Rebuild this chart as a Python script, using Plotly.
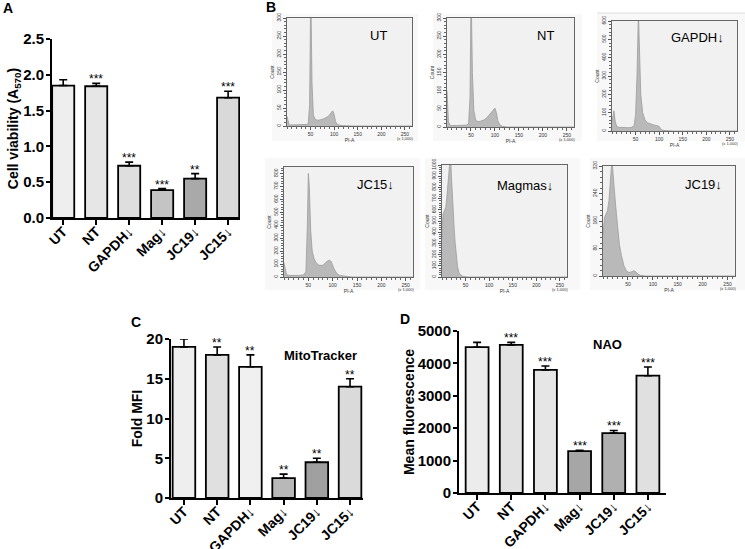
import plotly.graph_objects as go

# ---------------- data ----------------
categories = ["UT", "NT", "GAPDH↓", "Mag↓", "JC19↓", "JC15↓"]

a_values = [1.85, 1.84, 0.73, 0.39, 0.55, 1.68]
a_errors = [0.08, 0.04, 0.05, 0.02, 0.07, 0.09]
a_stars = ["", "***", "***", "***", "**", "***"]
a_ticks = [0.0, 0.5, 1.0, 1.5, 2.0, 2.5]

c_values = [19.0, 18.0, 16.5, 2.5, 4.5, 14.0]
c_errors = [1.0, 1.0, 1.5, 0.5, 0.5, 1.0]
c_stars = ["", "**", "**", "**", "**", "**"]
c_ticks = [0, 5, 10, 15, 20]

d_values = [4500, 4570, 3800, 1290, 1850, 3620]
d_errors = [150, 80, 120, 30, 80, 270]
d_stars = ["", "***", "***", "***", "***", "***"]
d_ticks = [0, 1000, 2000, 3000, 4000, 5000]

hist_labels = ["UT", "NT", "GAPDH↓", "JC15↓", "Magmas↓", "JC19↓"]
hist_ticks_x = [50, 100, 150, 200, 250]

ut_x = [0, 2, 4, 7, 12, 20, 30, 40, 45, 48, 50, 51, 53, 56, 60, 65, 70, 78, 85, 90, 94, 97, 100, 103, 107, 112, 120, 140, 265]
ut_y = [27, 15, 6, 3, 3, 3, 3, 4, 6, 60, 340, 320, 120, 30, 18, 16, 17, 20, 25, 30, 38, 42, 32, 12, 4, 2, 1, 0, 0]

nt_x = [0, 1, 3, 6, 10, 20, 30, 40, 45, 48, 50, 51, 53, 56, 60, 65, 70, 78, 85, 90, 95, 100, 103, 106, 110, 115, 125, 265]
nt_y = [100, 60, 15, 5, 4, 4, 4, 5, 8, 80, 340, 320, 150, 45, 18, 15, 16, 20, 28, 35, 45, 52, 40, 18, 6, 2, 0, 0]

gapdh_x = [0, 2, 4, 7, 10, 15, 25, 35, 42, 47, 50, 53, 56, 58, 61, 65, 70, 75, 80, 85, 90, 95, 100, 104, 110, 130, 265]
gapdh_y = [50, 90, 110, 50, 25, 20, 18, 18, 20, 30, 90, 300, 650, 500, 200, 100, 60, 45, 40, 35, 32, 30, 25, 8, 3, 0, 0]

jc15_x = [0, 2, 5, 10, 20, 30, 40, 45, 48, 50, 52, 55, 58, 62, 66, 72, 80, 88, 93, 97, 102, 108, 114, 125, 140, 265]
jc15_y = [110, 60, 20, 12, 10, 12, 15, 40, 400, 800, 700, 350, 200, 140, 110, 90, 90, 120, 130, 120, 70, 30, 12, 5, 0, 0]

mag_x = [0, 2, 4, 6, 8, 10, 12, 14, 16, 18, 20, 22, 24, 26, 28, 30, 33, 36, 40, 45, 55, 265]
mag_y = [350, 560, 580, 600, 620, 700, 850, 1000, 1100, 1100, 900, 700, 550, 420, 300, 180, 90, 40, 15, 5, 0, 0]

jc19_x = [0, 3, 6, 9, 12, 15, 17, 19, 21, 24, 27, 30, 33, 37, 42, 47, 52, 57, 62, 66, 70, 75, 85, 265]
jc19_y = [120, 170, 180, 190, 220, 280, 320, 320, 270, 230, 180, 130, 90, 60, 30, 15, 10, 12, 15, 12, 6, 2, 0, 0]

hist_x = [ut_x, nt_x, gapdh_x, jc15_x, mag_x, jc19_x]
hist_y = [ut_y, nt_y, gapdh_y, jc15_y, mag_y, jc19_y]
hist_ymax = [300, 300, 600, 850, 1000, 320]
hist_dtick = [50, 50, 100, 100, 100, 80]

# ---------------- layout helpers ----------------
W, H = 745, 549


def xd(a, b):
    return [a / W, b / W]


def yd(top, bottom):
    return [1 - bottom / H, 1 - top / H]


FONT = "Arial, Liberation Sans, sans-serif"
fig = go.Figure()
layout = dict(
    width=W, height=H, margin=dict(l=0, r=0, t=0, b=0, autoexpand=False),
    paper_bgcolor="white", plot_bgcolor="white", showlegend=False,
    font=dict(family=FONT, color="black"),
)
annotations = []
shapes = []

bar_panels = [
    # values, errors, stars, ticks, ymax, ytitle, xdom, ydom, xrange, colors, width
    (a_values, a_errors, a_stars, a_ticks, 2.5, "Cell viability (A<sub>570</sub>)",
     xd(52, 240), yd(39, 218), [-0.34, 5.36],
     ["#eeeeee", "#e6e6e6", "#dedede", "#c4c4c4", "#a9a9a9", "#d9d9d9"], 0.67),
    (c_values, c_errors, c_stars, c_ticks, 20, "Fold MFI",
     xd(171, 363), yd(339, 498), [-0.39, 5.39],
     ["#eeeeee", "#e0e0e0", "#f0f0f0", "#b8b8b8", "#a0a0a0", "#dadada"], 0.68),
    (d_values, d_errors, d_stars, d_ticks, 5000, "Mean fluorescence",
     xd(459, 666), yd(331, 493), [-0.53, 5.53],
     ["#ececec", "#e2e2e2", "#e6e6e6", "#a6a6a6", "#b0b0b0", "#e0e0e0"], 0.67),
]

for i, (vals, errs, stars, ticks, ymax, ytitle, xdom, ydom, xr, cols, bw) in enumerate(bar_panels):
    n = i + 1
    xa = "x" if n == 1 else f"x{n}"
    ya = "y" if n == 1 else f"y{n}"
    fig.add_trace(go.Bar(
        x=categories, y=vals, xaxis=xa, yaxis=ya, width=bw,
        marker=dict(color=cols, line=dict(color="black", width=1.8)),
        error_y=dict(type="data", array=errs, arrayminus=[0] * len(errs), symmetric=False,
                     color="black", thickness=1.6, width=4),
    ))
    for cat, v, e, s in zip(categories, vals, errs, stars):
        if s:
            annotations.append(dict(x=cat, y=v + e, xref=xa, yref=ya, text=s, showarrow=False,
                                    xanchor="center", yanchor="bottom", yshift=-5,
                                    font=dict(size=12, family=FONT, color="black")))
    key = "" if n == 1 else str(n)
    layout["xaxis" + key] = dict(
        domain=xdom, anchor=ya, range=xr, type="category", automargin=False,
        showline=True, linecolor="black", linewidth=2, ticks="outside", tickwidth=2,
        ticklen=5, tickcolor="black", tickangle=-45, showgrid=False, zeroline=False,
        ticklabelstandoff=-7,
        tickfont=dict(size=14, family=FONT, weight="bold", color="black"),
    )
    layout["yaxis" + key] = dict(
        domain=ydom, anchor=xa, range=[0, ymax], tickvals=ticks, automargin=False,
        showline=True, linecolor="black", linewidth=2, ticks="outside", tickwidth=2,
        ticklen=4, tickcolor="black", showgrid=False, zeroline=False,
        ticklabelstandoff=-1,
        tickformat=".1f" if n == 1 else "d",
        tickfont=dict(size=15, family=FONT, weight="bold", color="black"),
        title=dict(text=ytitle, standoff=0,
                   font=dict(size=14, family=FONT, weight="bold", color="black")),
    )

# ---------------- histograms (panel B) ----------------
hist_boxes = [
    (287, 412, 18, 126), (447, 574, 18, 127), (612, 737, 21, 131),
    (284, 413, 167, 277), (442, 567, 165, 277), (603, 735, 166, 276),
]
outer_boxes = [
    (272, 418, 14, 141), (433, 582, 14, 141), (597, 745, 13, 141),
    (265, 420, 158, 290), (425, 580, 158, 290), (590, 745, 158, 290),
]
label_pos = [(378, 35), (545, 35), (697, 37), (375, 184), (525, 185), (703, 184)]

for (ox0, ox1, oy0, oy1) in outer_boxes:
    shapes.append(dict(type="rect", xref="paper", yref="paper", layer="below",
                       x0=ox0 / W, x1=ox1 / W, y0=1 - oy1 / H, y1=1 - oy0 / H,
                       fillcolor="#f8f8f8", line=dict(width=0)))

for j in range(6):
    n = j + 4
    x0, x1, t, b = hist_boxes[j]
    fig.add_trace(go.Scatter(
        x=hist_x[j], y=hist_y[j], xaxis=f"x{n}", yaxis=f"y{n}", mode="lines",
        fill="tozeroy", fillcolor="#b9b9b9", line=dict(color="#9c9c9c", width=0.8),
        hoverinfo="skip",
    ))
    layout[f"xaxis{n}"] = dict(
        domain=xd(x0, x1), anchor=f"y{n}", range=[0, 265], tickvals=hist_ticks_x,
        automargin=False, layer="above traces",
        showline=True, mirror=True, linecolor="#666666", linewidth=1,
        ticks="outside", ticklen=3, tickcolor="#555555", showgrid=False, zeroline=False,
        minor=dict(dtick=10, ticks="outside", ticklen=2, tickcolor="#666666", showgrid=False),
        tickfont=dict(size=5, color="#333333"),
        title=dict(text="PI-A", standoff=1, font=dict(size=5, color="#333333")),
    )
    layout[f"yaxis{n}"] = dict(
        domain=yd(t, b), anchor=f"x{n}", range=[0, hist_ymax[j]], dtick=hist_dtick[j],
        automargin=False, layer="above traces",
        showline=True, mirror=True, linecolor="#666666", linewidth=1,
        ticks="outside", ticklen=3, tickcolor="#555555", showgrid=False, zeroline=False,
        minor=dict(dtick=hist_dtick[j] / 5, ticks="outside", ticklen=2, tickcolor="#666666",
                   showgrid=False),
        tickangle=-90, tickfont=dict(size=5, color="#333333"),
        title=dict(text="Count", standoff=1, font=dict(size=5, color="#333333")),
    )
    shapes.append(dict(type="rect", xref="paper", yref="paper", layer="below",
                       x0=x0 / W, x1=x1 / W, y0=1 - b / H, y1=1 - t / H,
                       fillcolor="#f1f1f1", line=dict(width=0)))
    lx, ly = label_pos[j]
    annotations.append(dict(x=lx / W, y=1 - ly / H, xref="paper", yref="paper",
                            text=hist_labels[j], showarrow=False,
                            xanchor="center", yanchor="middle",
                            font=dict(size=13, family=FONT, color="black")))
    annotations.append(dict(x=(x1 + 3) / W, y=1 - (b + 8) / H, xref="paper", yref="paper",
                            text="(x 1,000)", showarrow=False, xanchor="right", yanchor="top",
                            font=dict(size=4, color="#333333")))

# thin rule above the GAPDH panel
shapes.append(dict(type="line", xref="paper", yref="paper", x0=597 / W, x1=745 / W,
                   y0=1 - 13 / H, y1=1 - 13 / H, line=dict(color="#dddddd", width=1)))

# ---------------- panel labels ----------------
for txt, px, py in [("A", 8, 8), ("B", 271, 7), ("C", 136, 322), ("D", 405, 319)]:
    annotations.append(dict(x=px / W, y=1 - py / H, xref="paper", yref="paper", text=txt,
                            showarrow=False, xanchor="center", yanchor="middle",
                            font=dict(size=14, family=FONT, weight="bold", color="black")))

annotations.append(dict(x=320 / W, y=1 - 355 / H, xref="paper", yref="paper",
                        text="MitoTracker", showarrow=False, xanchor="center", yanchor="middle",
                        font=dict(size=13, family=FONT, weight="bold", color="black")))
annotations.append(dict(x=607 / W, y=1 - 344 / H, xref="paper", yref="paper",
                        text="NAO", showarrow=False, xanchor="center", yanchor="middle",
                        font=dict(size=13, family=FONT, weight="bold", color="black")))

layout["annotations"] = annotations
layout["shapes"] = shapes
fig.update_layout(**layout)
fig.write_html("out.html", config={"displayModeBar": False},
               post_script="document.body.style.margin='0px';")
